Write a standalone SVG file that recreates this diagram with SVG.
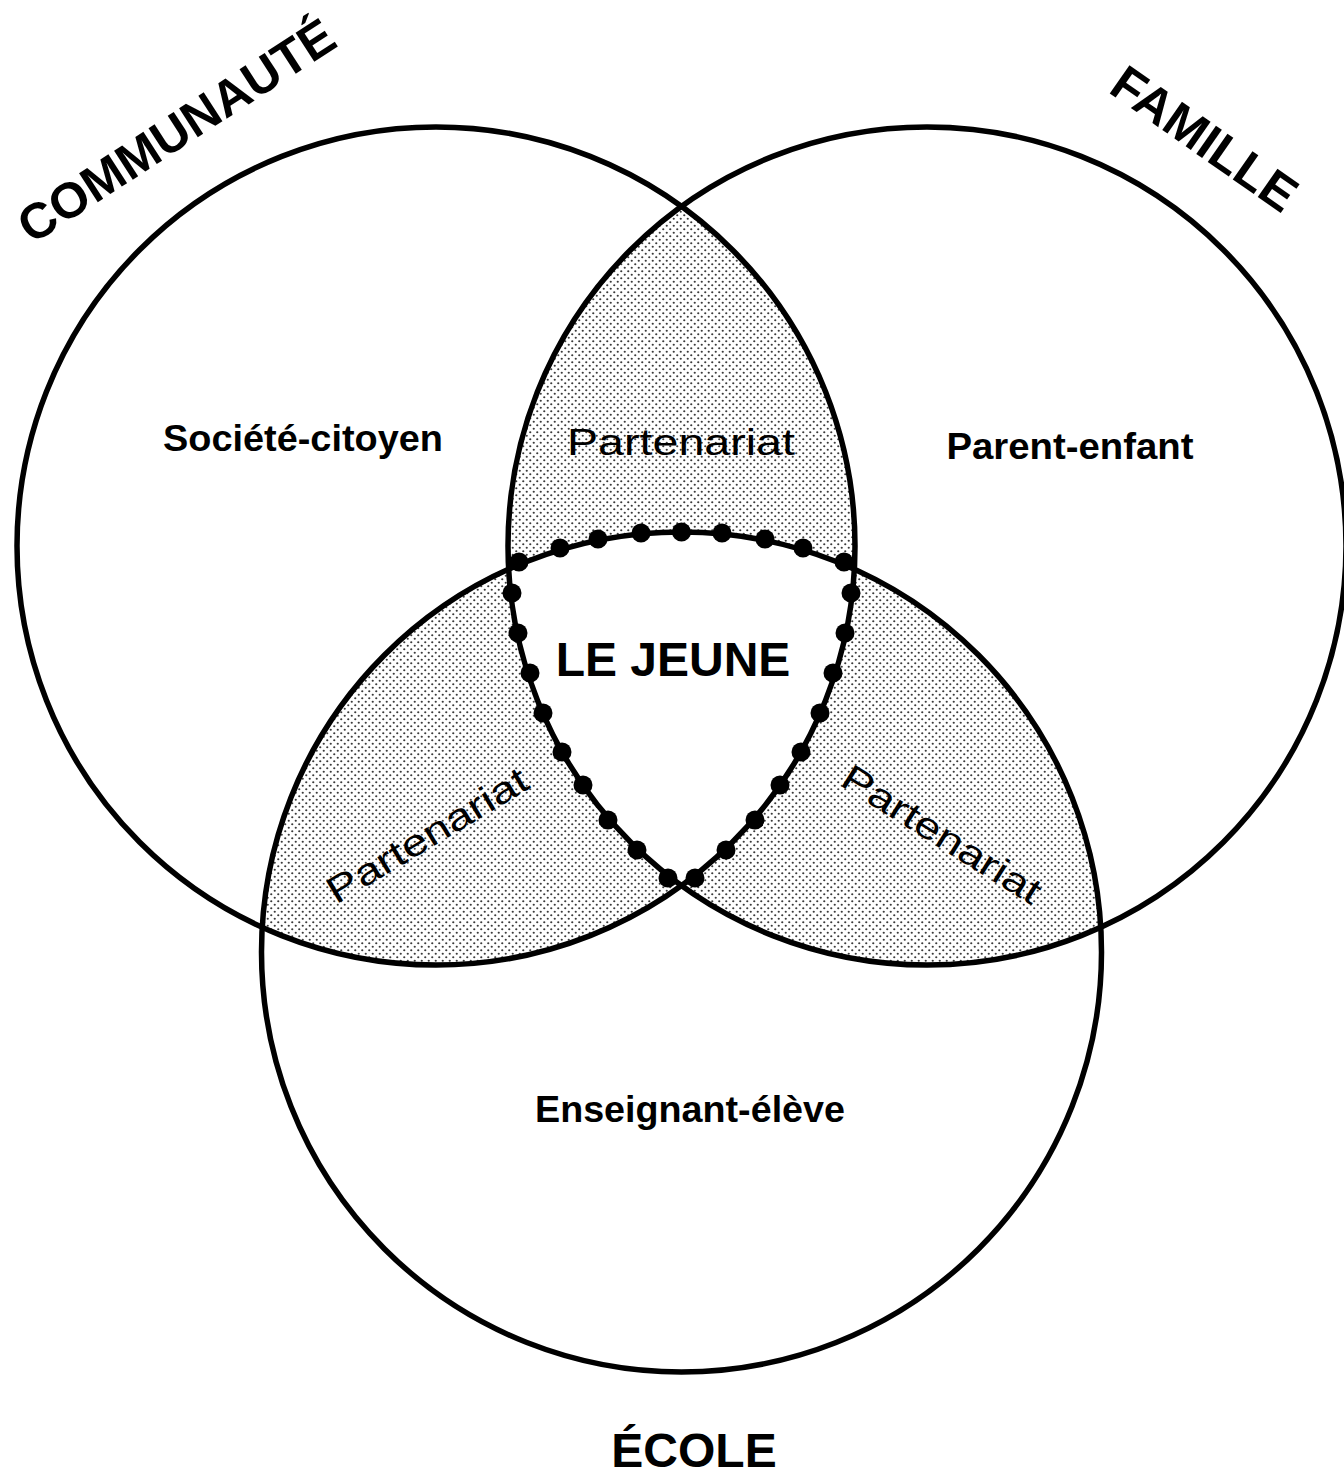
<svg xmlns="http://www.w3.org/2000/svg" width="1344" height="1478" viewBox="0 0 1344 1478">
<style>
.ring{fill:none;stroke:#000;stroke-width:5.5}
.big{font-family:"Liberation Sans",Arial,sans-serif;font-weight:bold;font-size:50px;fill:#000}
.lbl{font-family:"Liberation Sans",Arial,sans-serif;font-weight:bold;font-size:37px;fill:#000;text-anchor:middle}
.part{font-family:"Liberation Sans",Arial,sans-serif;font-size:37px;fill:#000;text-anchor:middle}
.dot{fill:#000}
</style>
<defs>
<pattern id="dots" width="7" height="7" patternUnits="userSpaceOnUse">
<circle cx="1.75" cy="1.75" r="1.1" fill="#3a3a3a"/>
<circle cx="5.25" cy="5.25" r="1.1" fill="#3a3a3a"/>
</pattern>
<clipPath id="cL"><circle cx="436" cy="546" r="419"/></clipPath>
<clipPath id="cR"><circle cx="927" cy="546" r="419"/></clipPath>
<clipPath id="cB"><circle cx="681.5" cy="952" r="420"/></clipPath>
</defs>
<rect width="1344" height="1478" fill="#fff"/>
<g id="shading">
<g clip-path="url(#cL)"><circle cx="927" cy="546" r="419" fill="url(#dots)"/></g>
<g clip-path="url(#cL)"><circle cx="681.5" cy="952" r="420" fill="url(#dots)"/></g>
<g clip-path="url(#cR)"><circle cx="681.5" cy="952" r="420" fill="url(#dots)"/></g>
<g clip-path="url(#cL)"><g clip-path="url(#cR)"><circle cx="681.5" cy="952" r="420" fill="#fff"/></g></g>
</g>
<g id="communaute">
<circle class="ring" cx="436" cy="546" r="419"/>
<text class="big" text-anchor="middle" transform="translate(176,130) rotate(-33)" x="0" y="18">COMMUNAUTÉ</text>
<text class="lbl" x="303" y="451" textLength="280" lengthAdjust="spacingAndGlyphs">Société-citoyen</text>
</g>
<g id="famille">
<circle class="ring" cx="927" cy="546" r="419"/>
<text class="big" text-anchor="middle" transform="translate(1205,138) rotate(35)" x="0" y="18">FAMILLE</text>
<text class="lbl" x="1070" y="459" textLength="247" lengthAdjust="spacingAndGlyphs">Parent-enfant</text>
</g>
<g id="ecole">
<circle class="ring" cx="681.5" cy="952" r="420"/>
<text class="big" text-anchor="middle" x="694" y="1467" style="font-size:48px">ÉCOLE</text>
<text class="lbl" x="690" y="1122" textLength="310" lengthAdjust="spacingAndGlyphs">Enseignant-élève</text>
</g>
<g id="partenariats">
<text class="part" x="681" y="455" textLength="228" lengthAdjust="spacingAndGlyphs">Partenariat</text>
<text class="part" transform="translate(427,835) rotate(-31)" x="0" y="13" textLength="228" lengthAdjust="spacingAndGlyphs">Partenariat</text>
<text class="part" transform="translate(942,834) rotate(32)" x="0" y="13" textLength="228" lengthAdjust="spacingAndGlyphs">Partenariat</text>
</g>
<g id="le-jeune">
<g id="boundary-dots">
<circle class="dot" cx="519" cy="562" r="9.5"/>
<circle class="dot" cx="560" cy="548" r="9.5"/>
<circle class="dot" cx="598" cy="539" r="9.5"/>
<circle class="dot" cx="641" cy="533" r="9.5"/>
<circle class="dot" cx="681.5" cy="532" r="9.5"/>
<circle class="dot" cx="722" cy="533" r="9.5"/>
<circle class="dot" cx="765" cy="539" r="9.5"/>
<circle class="dot" cx="803" cy="548" r="9.5"/>
<circle class="dot" cx="844" cy="562" r="9.5"/>
<circle class="dot" cx="512" cy="593" r="9.5"/>
<circle class="dot" cx="518" cy="633" r="9.5"/>
<circle class="dot" cx="530" cy="673" r="9.5"/>
<circle class="dot" cx="543" cy="713" r="9.5"/>
<circle class="dot" cx="562" cy="752" r="9.5"/>
<circle class="dot" cx="583" cy="785" r="9.5"/>
<circle class="dot" cx="608" cy="820" r="9.5"/>
<circle class="dot" cx="637" cy="850" r="9.5"/>
<circle class="dot" cx="668" cy="878" r="9.5"/>
<circle class="dot" cx="851" cy="593" r="9.5"/>
<circle class="dot" cx="845" cy="633" r="9.5"/>
<circle class="dot" cx="833" cy="673" r="9.5"/>
<circle class="dot" cx="820" cy="713" r="9.5"/>
<circle class="dot" cx="801" cy="752" r="9.5"/>
<circle class="dot" cx="780" cy="785" r="9.5"/>
<circle class="dot" cx="755" cy="820" r="9.5"/>
<circle class="dot" cx="726" cy="850" r="9.5"/>
<circle class="dot" cx="695" cy="878" r="9.5"/>
</g>
<text class="lbl" x="673" y="676" style="font-size:48px">LE JEUNE</text>
</g>
</svg>
